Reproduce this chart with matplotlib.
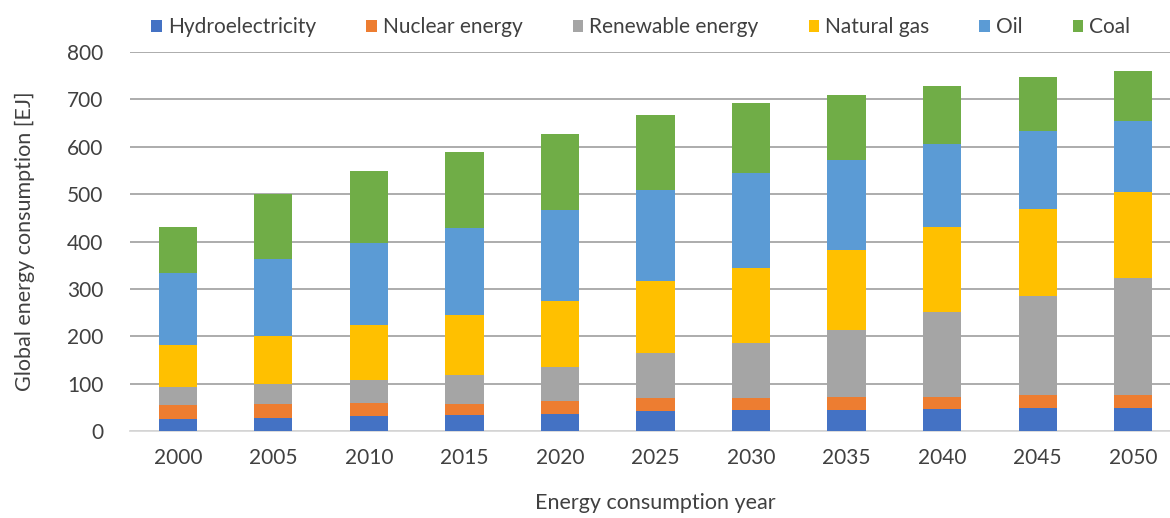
import matplotlib
matplotlib.use("Agg")
import matplotlib.pyplot as plt
import numpy as np

years = ["2000", "2005", "2010", "2015", "2020", "2025", "2030", "2035", "2040", "2045", "2050"]
hydro = [26, 27, 31, 34, 36, 42, 44, 45, 46, 49, 48]
nuclear = [28, 30, 29, 23, 27, 27, 25, 26, 26, 28, 28]
renewable = [38, 43, 48, 61, 72, 95, 116, 143, 180, 207, 246]
natural_gas = [90, 100, 116, 127, 140, 153, 160, 169, 179, 185, 183]
oil = [152, 164, 173, 183, 192, 191, 199, 190, 174, 164, 150]
coal = [97, 136, 151, 160, 160, 159, 148, 136, 123, 114, 105]

series = [
    ("Hydroelectricity", hydro, "#4472C4"),
    ("Nuclear energy", nuclear, "#ED7D31"),
    ("Renewable energy", renewable, "#A5A5A5"),
    ("Natural gas", natural_gas, "#FFC000"),
    ("Oil", oil, "#5B9BD5"),
    ("Coal", coal, "#70AD47"),
]

plt.rcParams['font.family'] = ['Lato', 'DejaVu Sans']
txt = "#404040"

W, H = 1170, 518
fig = plt.figure(figsize=(W / 100, H / 100), dpi=100)
left, right = 130 / W, 1181 / W
bottom, top = 1 - 431 / H, 1 - 52 / H
ax = fig.add_axes([left, bottom, right - left, top - bottom])

x = np.arange(len(years))
base = np.zeros(len(years))
for name, vals, col in series:
    v = np.array(vals, dtype=float)
    ax.bar(x, v, 0.4, bottom=base, color=col, label=name, zorder=3)
    base += v

ax.set_xlim(-0.5, len(years) - 0.5)
ax.set_ylim(0, 800)
ax.set_yticks(range(0, 801, 100))
ax.set_xticks(x)
ax.set_xticklabels(years)
ax.yaxis.grid(True, color="#A6A6A6", linewidth=1.3, zorder=0)
ax.set_axisbelow(True)
for s in ["top", "right", "left"]:
    ax.spines[s].set_visible(False)
ax.spines["bottom"].set_color("#D9D9D9")
ax.spines["bottom"].set_linewidth(1.3)
ax.tick_params(axis="both", length=0, labelsize=15, colors=txt)
ax.tick_params(axis="x", pad=12)
ax.tick_params(axis="y", pad=19)

fig.text(25 / W, 0.5 * (bottom + top), "Global energy consumption [EJ]", rotation=90,
         ha="center", va="center", fontsize=15.5, color=txt)
fig.text(655 / W, 1 - 503 / H, "Energy consumption year", ha="center", va="center",
         fontsize=15.5, color=txt)

leg = fig.legend(loc="center", bbox_to_anchor=(641 / W, 1 - 27 / H), ncol=6, frameon=False,
                 fontsize=15, handlelength=0.5, handleheight=0.5, handletextpad=0.3,
                 columnspacing=2.4)
for t in leg.get_texts():
    t.set_color(txt)

fig.savefig("out.png", dpi=100)
